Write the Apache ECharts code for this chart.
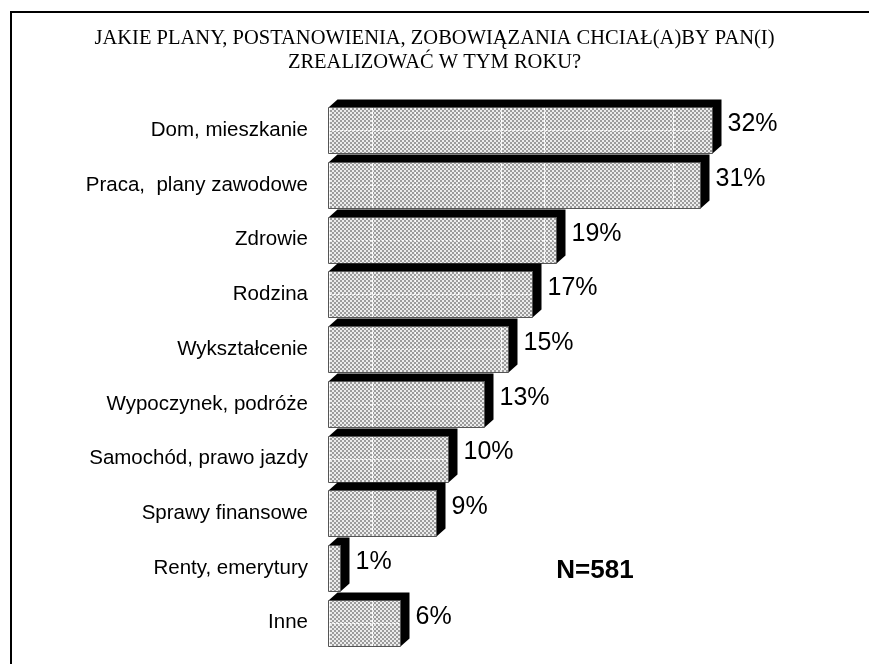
<!DOCTYPE html>
<html><head><meta charset="utf-8">
<script src="https://cdn.jsdelivr.net/npm/echarts@6/dist/echarts.min.js"></script>
<style>html,body{margin:0;padding:0;background:#fff}#c{width:869px;height:664px}</style>
</head><body><div id="c"></div>
<script>
const categories = ['Dom, mieszkanie','Praca,  plany zawodowe','Zdrowie','Rodzina','Wykształcenie','Wypoczynek, podróże','Samochód, prawo jazdy','Sprawy finansowe','Renty, emerytury','Inne'];
const values = [32, 31, 19, 17, 15, 13, 10, 9, 1, 6];
const titleText = 'JAKIE PLANY, POSTANOWIENIA, ZOBOWIĄZANIA CHCIAŁ(A)BY PAN(I)\nZREALIZOWAĆ W TYM ROKU?';
const sampleNote = 'N=581';

function makePattern(){
  const c = document.createElement('canvas'); c.width = 172; c.height = 4;
  const g = c.getContext('2d');
  g.fillStyle = '#ececec'; g.fillRect(0,0,172,4);
  g.fillStyle = '#9c9c9c';
  for (let y = 0; y < 4; y += 2) for (let x = 0; x < 172; x += 2)
    if (((x/2) + (y/2)) % 2 === 0) g.fillRect(x, y, 2, 2);
  g.fillStyle = '#ffffff';
  [28, 71, 114, 157].forEach(x => g.fillRect(x, 0, 1, 2));
  return c;
}
const pattern = { image: makePattern(), repeat: 'repeat' };

function renderItem(params, api){
  const v = api.value(0), i = api.value(1);
  const p0 = api.coord([0, i]), p1 = api.coord([v, i]);
  const band = api.size([0, 1])[1];
  const h = Math.round(band * 0.84), dx = 9, dy = 8;
  const x0 = Math.round(p0[0]) + 0.5, x1 = Math.round(p1[0]) + 0.5, yc = p0[1];
  const top = Math.round(yc - h/2) + 0.5, bot = top + h;
  const my = Math.round(yc) + 0.5;
  return { type: 'group', children: [
    { type: 'polygon', shape: { points: [[x0, top], [x0+dx, top-dy], [x1+dx, top-dy], [x1+dx, bot-dy], [x1, bot], [x1, top]] },
      style: { fill: '#000' } },
    { type: 'rect', shape: { x: x0, y: top, width: x1 - x0, height: h },
      style: { fill: pattern, stroke: '#555', lineWidth: 1 } },
    { type: 'line', shape: { x1: x0 + 1, y1: my, x2: x1 - 1, y2: my },
      style: { stroke: '#fff', lineWidth: 1, lineDash: [2, 2] } },
    { type: 'text', style: { text: v + '%', x: x1 + 15, y: yc - 6, fill: '#000',
      fontSize: 25, fontFamily: '"Liberation Sans", Arial', align: 'left', verticalAlign: 'middle' } }
  ]};
}

const chart = echarts.init(document.getElementById('c'));
chart.setOption({
  animation: false,
  backgroundColor: '#fff',
  title: { text: titleText, left: 'center', top: 22,
    textStyle: { fontFamily: '"Liberation Serif", "Times New Roman"', fontSize: 20.5, fontWeight: 'normal', color: '#000', lineHeight: 24 } },
  grid: { left: 328, right: 61, top: 103, bottom: 14 },
  xAxis: { type: 'value', min: 0, max: 40, show: false },
  yAxis: { type: 'category', data: categories, inverse: true,
    axisLine: { show: false }, axisTick: { show: false }, splitLine: { show: false },
    axisLabel: { color: '#000', fontSize: 20.5, fontFamily: '"Liberation Sans", Arial', margin: 20, padding: [14, 0, 0, 0] } },
  series: [{ type: 'custom', renderItem: renderItem, encode: { x: 0, y: 1 },
    data: values.map((v, i) => [v, i]) }],
  graphic: [
    { type: 'rect', shape: { x: 10, y: 11, width: 859, height: 2 }, style: { fill: '#000' } },
    { type: 'rect', shape: { x: 10, y: 11, width: 2, height: 653 }, style: { fill: '#000' } },
    { type: 'text', x: 595, y: 571, style: { text: sampleNote, fill: '#000', fontSize: 26, fontWeight: 'bold',
      fontFamily: '"Liberation Sans", Arial', align: 'center', verticalAlign: 'middle' } }
  ]
});
</script></body></html>
